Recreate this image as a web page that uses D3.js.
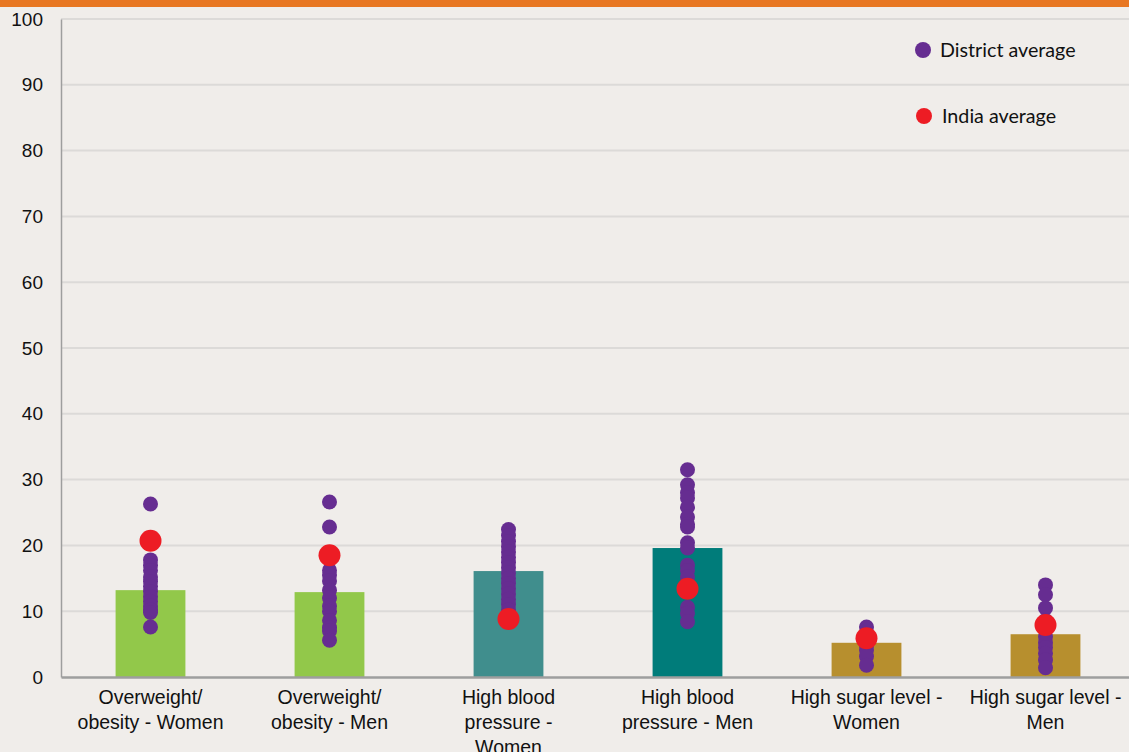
<!DOCTYPE html>
<html>
<head>
<meta charset="utf-8">
<script src="https://cdn.jsdelivr.net/npm/d3@7"></script>
<style>
  html, body { margin: 0; padding: 0; background: #f0edea; overflow: hidden; }
  svg { display: block; font-family: Lato, "Open Sans", sans-serif; }
</style>
</head>
<body>
<div id="chart"></div>
<script>
// Categories (line breaks as in the original axis labels)
const categories = [
  "Overweight/\nobesity - Women",
  "Overweight/\nobesity - Men",
  "High blood\npressure -\nWomen",
  "High blood\npressure - Men",
  "High sugar level -\nWomen",
  "High sugar level -\nMen",
];

// State average (bar)
const stateValues = [13.2, 12.9, 16.1, 19.6, 5.2, 6.5];

// India average (red dot)
const indiaValues = [20.7, 18.5, 8.8, 13.4, 5.9, 7.9];

// District averages (purple dots)
const districtValues = [
  [26.3, 17.8, 17.0, 16.2, 15.2, 14.5, 13.8, 13.0, 12.2, 11.5, 10.8, 10.2, 9.8, 7.6],
  [26.6, 22.8, 16.2, 15.5, 14.6, 13.2, 12.0, 10.8, 10.0, 8.6, 7.5, 7.0, 5.6],
  [22.4, 21.5, 20.6, 19.8, 19.0, 18.2, 17.4, 16.6, 15.8, 15.0, 14.2, 13.4, 12.6, 11.8, 11.0, 10.2],
  [31.5, 29.2, 28.0, 27.2, 25.8, 24.3, 23.2, 22.8, 20.4, 19.6, 17.0, 16.2, 15.2, 10.6, 9.7, 8.4],
  [7.6, 6.4, 4.8, 4.1, 3.1, 1.8],
  [14.0, 12.5, 10.5, 8.6, 6.1, 5.2, 4.5, 3.6, 2.6, 1.4],
];

const barColors = ["#92c84a", "#92c84a", "#408e8d", "#007c7a", "#b78f2e", "#b78f2e"];
const yTicks = [0, 10, 20, 30, 40, 50, 60, 70, 80, 90, 100];

const W = 1129, H = 752;
const margin = { top: 19, right: -6, bottom: 75, left: 61 };
const width = W - margin.left - margin.right;
const height = H - margin.top - margin.bottom;

const svg = d3.select("#chart").append("svg")
  .attr("width", W)
  .attr("height", H);

svg.append("rect").attr("width", W).attr("height", H).attr("fill", "#f0edea");

const g = svg.append("g")
  .attr("transform", `translate(${margin.left},${margin.top})`);

const x = d3.scaleBand().domain(categories).range([0, width]).paddingInner(0.61).paddingOuter(0.305);
const y = d3.scaleLinear().domain([0, 100]).range([height, 0]);

// Gridlines
g.append("g")
  .selectAll("line")
  .data(yTicks.filter(d => d > 0))
  .enter()
  .append("line")
  .attr("x1", 0)
  .attr("x2", width)
  .attr("y1", d => y(d))
  .attr("y2", d => y(d))
  .attr("stroke", "#dcdad8")
  .attr("stroke-width", 2);

// Y axis
const yAxis = g.append("g")
  .call(d3.axisLeft(y).tickValues(yTicks).tickSize(0).tickPadding(18));
yAxis.select(".domain").attr("stroke", "#9e9e9e").attr("stroke-width", 1.5);
yAxis.selectAll("text").attr("font-size", 19).attr("fill", "#111");

// Bars
g.append("g")
  .selectAll("rect")
  .data(stateValues)
  .enter()
  .append("rect")
  .attr("x", (d, i) => x(categories[i]))
  .attr("width", x.bandwidth())
  .attr("y", d => y(d))
  .attr("height", d => height - y(d))
  .attr("fill", (d, i) => barColors[i]);

// X axis
const xAxis = g.append("g")
  .attr("transform", `translate(0,${height})`)
  .call(d3.axisBottom(x).tickSize(0).tickFormat(""));
xAxis.select(".domain").attr("stroke", "#9e9e9e").attr("stroke-width", 2.5);

xAxis.selectAll(".tick")
  .append("text")
  .attr("fill", "#111")
  .attr("font-size", 19.5)
  .attr("text-anchor", "middle")
  .selectAll("tspan")
  .data(d => d.split("\n"))
  .enter()
  .append("tspan")
  .attr("x", 0)
  .attr("y", (d, i) => 27 + i * 25)
  .text(d => d);

// District dots
const districtPoints = [];
districtValues.forEach((vals, i) => vals.forEach(v => districtPoints.push({ c: categories[i], v })));

g.append("g")
  .selectAll("circle")
  .data(districtPoints)
  .enter()
  .append("circle")
  .attr("cx", d => x(d.c) + x.bandwidth() / 2)
  .attr("cy", d => y(d.v))
  .attr("r", 7.5)
  .attr("fill", "#662d91");

// India dots
g.append("g")
  .selectAll("circle")
  .data(indiaValues)
  .enter()
  .append("circle")
  .attr("cx", (d, i) => x(categories[i]) + x.bandwidth() / 2)
  .attr("cy", d => y(d))
  .attr("r", 11)
  .attr("fill", "#ed1c24");

// Legend
const legend = svg.append("g");
const legendItems = [
  { label: "District average", color: "#662d91", r: 8, cx: 923, cy: 50, tx: 940 },
  { label: "India average", color: "#ed1c24", r: 8, cx: 924, cy: 116, tx: 942 },
];
legendItems.forEach(item => {
  legend.append("circle").attr("cx", item.cx).attr("cy", item.cy).attr("r", item.r).attr("fill", item.color);
  legend.append("text")
    .attr("x", item.tx)
    .attr("y", item.cy)
    .attr("dy", "0.35em")
    .attr("font-size", 19.7)
    .attr("fill", "#111")
    .text(item.label);
});

// Orange strip along the top
svg.append("rect").attr("x", 0).attr("y", 0).attr("width", W).attr("height", 7).attr("fill", "#e87722");
</script>
</body>
</html>
